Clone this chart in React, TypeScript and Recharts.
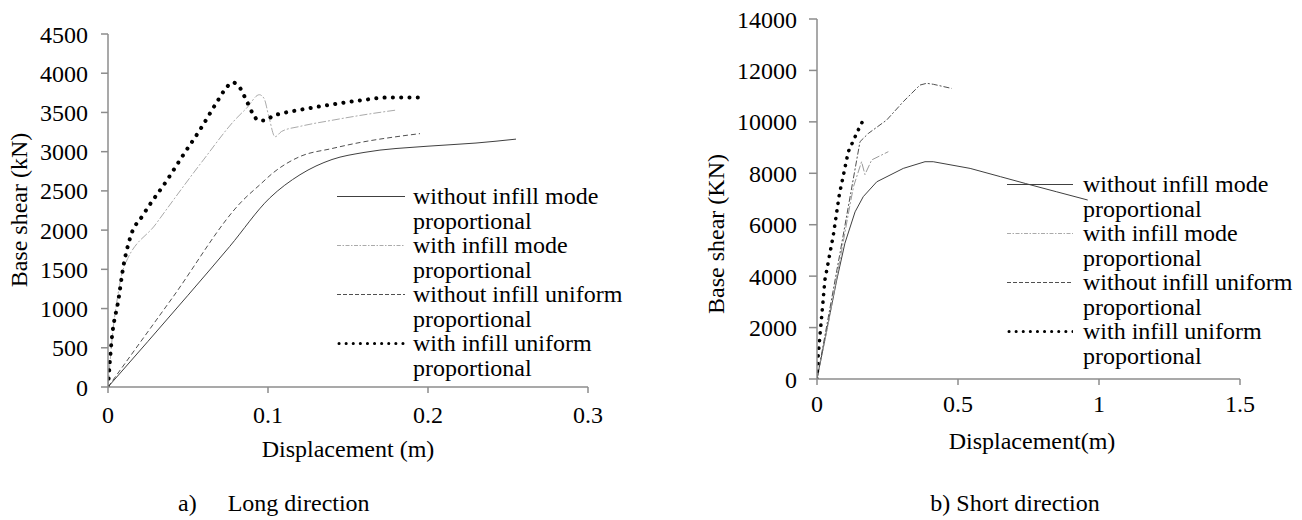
import React from 'react';
import { LineChart, Line, XAxis, YAxis, Legend } from 'recharts';

const FONT = '"Liberation Serif", Tinos, "Times New Roman", Times, "DejaVu Serif", serif';
const AXIS = '#8c8c8c';
const FS = 24;

// ---------- a) Long direction ----------
const longXTicks = [0, 0.1, 0.2, 0.3];
const longYTicks = [0, 500, 1000, 1500, 2000, 2500, 3000, 3500, 4000, 4500];

const longWithoutModeX = [0, 0.05, 0.076, 0.101, 0.12, 0.14, 0.16, 0.2, 0.23, 0.255];
const longWithoutModeY = [0, 1170, 1790, 2408, 2706, 2900, 2990, 3070, 3110, 3160];

const longWithModeX = [0, 0.003, 0.006, 0.0095, 0.03, 0.06, 0.08, 0.0867, 0.0946, 0.0975, 0.1005, 0.1044, 0.1085, 0.12, 0.14, 0.16, 0.18];
const longWithModeY = [0, 700, 1150, 1500, 2080, 2905, 3420, 3556, 3726, 3680, 3450, 3190, 3258, 3322, 3400, 3470, 3530];

const longWithoutUniformX = [0, 0.04, 0.0846, 0.095, 0.103, 0.12, 0.14, 0.1575, 0.18, 0.195];
const longWithoutUniformY = [0, 1130, 2386, 2580, 2727, 2938, 3040, 3117, 3190, 3230];

const longWithUniformX = [0, 0.0023, 0.0065, 0.0096, 0.0138, 0.022, 0.037, 0.0467, 0.0575, 0.0683, 0.0738, 0.0777, 0.0815, 0.0863, 0.0908, 0.094, 0.0986, 0.103, 0.1075, 0.118, 0.139, 0.16, 0.175, 0.195];
const longWithUniformY = [0, 600, 1110, 1535, 1900, 2195, 2640, 2948, 3279, 3640, 3811, 3883, 3841, 3662, 3475, 3398, 3398, 3458, 3483, 3526, 3598, 3660, 3690, 3690];

// ---------- b) Short direction ----------
const shortXTicks = [0, 0.5, 1, 1.5];
const shortYTicks = [0, 2000, 4000, 6000, 8000, 10000, 12000, 14000];

const shortWithoutModeX = [0, 0.07, 0.099, 0.135, 0.164, 0.212, 0.306, 0.383, 0.412, 0.543, 0.65, 0.74, 0.85, 0.96];
const shortWithoutModeY = [0, 3850, 5280, 6500, 7090, 7670, 8190, 8450, 8450, 8190, 7870, 7600, 7280, 6960];

const shortWithModeX = [0, 0.04, 0.08, 0.12, 0.13, 0.158, 0.17, 0.194, 0.253];
const shortWithModeY = [0, 2150, 4550, 6950, 7500, 8450, 7950, 8520, 8840];

const shortWithoutUniformX = [0, 0.04, 0.08, 0.12, 0.1525, 0.182, 0.247, 0.306, 0.365, 0.389, 0.413, 0.4775];
const shortWithoutUniformY = [0, 2400, 4800, 7250, 9230, 9550, 10070, 10785, 11430, 11500, 11460, 11300];

const shortWithUniformX = [0, 0.0047, 0.0165, 0.028, 0.058, 0.079, 0.111, 0.146, 0.17];
const shortWithUniformY = [0, 1000, 2420, 3850, 5600, 7160, 8840, 9680, 10200];

const seriesNames = [
  ['without infill mode', 'proportional'],
  ['with infill mode', 'proportional'],
  ['without infill uniform', 'proportional'],
  ['with infill uniform', 'proportional'],
];

const zip = (xs: number[], ys: number[]) => xs.map((x, i) => ({ x, y: ys[i] }));

type Style = { stroke: string; width: number; dash?: string; cap?: 'round' | 'butt' };

const longStyles: Style[] = [
  { stroke: '#404040', width: 1 },
  { stroke: '#aaaaaa', width: 1, dash: '8 2 2 2' },
  { stroke: '#505050', width: 1, dash: '5 3' },
  { stroke: '#000000', width: 4, dash: '0.1 8.2', cap: 'round' },
];
const shortStyles: Style[] = [
  { stroke: '#404040', width: 1 },
  { stroke: '#9a9a9a', width: 1, dash: '8 2 2 2' },
  { stroke: '#505050', width: 1, dash: '6 2 2 2' },
  { stroke: '#000000', width: 3.6, dash: '0.1 7.6', cap: 'round' },
];
const legendSampleStyles: Style[] = [
  { stroke: '#404040', width: 1 },
  { stroke: '#aaaaaa', width: 1, dash: '4 1.5 1.5 1.5' },
  { stroke: '#505050', width: 1, dash: '4 2' },
  { stroke: '#000000', width: 3, dash: '0.1 7', cap: 'round' },
];

const makeLegend = (sampleW: number, gap: number) => () => (
  <div style={{ fontFamily: FONT, fontSize: FS, lineHeight: '24.5px', color: '#000', whiteSpace: 'nowrap' }}>
    {seriesNames.map((n, i) => {
      const s = legendSampleStyles[i];
      return (
        <div key={i} style={{ display: 'flex', alignItems: 'flex-start' }}>
          <svg width={sampleW} height={24.5} style={{ flex: 'none', marginRight: gap, display: 'block' }}>
            <line x1={s.cap ? 2 : 0} x2={sampleW} y1={12.5} y2={12.5} stroke={s.stroke} strokeWidth={s.width}
              strokeDasharray={s.dash} strokeLinecap={s.cap || 'butt'} />
          </svg>
          <div>{n[0]}<br />{n[1]}</div>
        </div>
      );
    })}
  </div>
);

const tickStyle = { fill: '#000', fontSize: FS, fontFamily: FONT };

const renderLines = (data: { x: number; y: number }[][], styles: Style[], type: 'monotone' | 'linear') =>
  data.map((d, i) => (
    <Line key={i} data={d} dataKey="y" name={seriesNames[i].join(' ')} type={type}
      stroke={styles[i].stroke} strokeWidth={styles[i].width} strokeDasharray={styles[i].dash}
      strokeLinecap={styles[i].cap || 'butt'} dot={false} activeDot={false} isAnimationActive={false} />
  ));

const TextBox = ({ x, y, w, text, rotate }: { x: number; y: number; w: number; text: string; rotate?: boolean }) => (
  <div style={{
    position: 'absolute', left: x - w / 2, top: y - 13, width: w, height: 26, lineHeight: '26px',
    textAlign: 'center', fontFamily: FONT, fontSize: FS, color: '#000', whiteSpace: 'nowrap',
    transform: rotate ? 'rotate(-90deg)' : undefined,
  }}>{text}</div>
);

export default function App() {
  const longData = [
    zip(longWithoutModeX, longWithoutModeY),
    zip(longWithModeX, longWithModeY),
    zip(longWithoutUniformX, longWithoutUniformY),
    zip(longWithUniformX, longWithUniformY),
  ];
  const shortData = [
    zip(shortWithoutModeX, shortWithoutModeY),
    zip(shortWithModeX, shortWithModeY),
    zip(shortWithoutUniformX, shortWithoutUniformY),
    zip(shortWithUniformX, shortWithUniformY),
  ];
  return (
    <div style={{ position: 'absolute', left: 0, top: 0, width: 1302, height: 520, background: '#fff', overflow: 'hidden', fontFamily: FONT }}>
      <div style={{ position: 'absolute', left: 0, top: 0 }}>
        <LineChart width={640} height={430} margin={{ top: 34, right: 52, bottom: 13, left: 0 }} style={{ fontFamily: FONT }}>
          <XAxis type="number" dataKey="x" domain={[0, 0.3]} ticks={longXTicks} allowDataOverflow
            stroke={AXIS} strokeWidth={1.5} tickSize={6} tickMargin={13} tick={tickStyle} height={30} interval={0} />
          <YAxis type="number" domain={[0, 4500]} ticks={longYTicks} width={108} allowDataOverflow
            stroke={AXIS} strokeWidth={1.5} tickSize={7} tickMargin={13} tick={tickStyle} interval={0} />
          {renderLines(longData, longStyles, 'monotone')}
          <Legend layout="vertical" align="center" verticalAlign="middle" content={makeLegend(68, 8)}
            wrapperStyle={{ left: 337, top: 184, width: 300, height: 200 }} />
        </LineChart>
      </div>
      <div style={{ position: 'absolute', left: 700, top: 0 }}>
        <LineChart width={600} height={430} margin={{ top: 19, right: 60, bottom: 21, left: 0 }} style={{ fontFamily: FONT }}>
          <XAxis type="number" dataKey="x" domain={[0, 1.5]} ticks={shortXTicks} allowDataOverflow
            stroke={AXIS} strokeWidth={1.5} tickSize={6} tickMargin={10} tick={tickStyle} height={30} interval={0} />
          <YAxis type="number" domain={[0, 14000]} ticks={shortYTicks} width={117} allowDataOverflow
            stroke={AXIS} strokeWidth={1.5} tickSize={8} tickMargin={12} tick={tickStyle} interval={0} />
          {renderLines(shortData, shortStyles, 'linear')}
          <Legend layout="vertical" align="center" verticalAlign="middle" content={makeLegend(66, 10)}
            wrapperStyle={{ left: 307, top: 172, width: 295, height: 200 }} />
        </LineChart>
      </div>
      <TextBox x={19} y={210} w={220} text="Base shear (kN)" rotate />
      <TextBox x={716} y={234} w={220} text="Base shear (KN)" rotate />
      <TextBox x={348} y={449} w={240} text="Displacement (m)" />
      <TextBox x={1032} y={441} w={240} text="Displacement(m)" />
      <div style={{ position: 'absolute', left: 178, top: 490, fontFamily: FONT, fontSize: FS, lineHeight: '26px', whiteSpace: 'nowrap' }}>
        a)<span style={{ display: 'inline-block', width: 31 }} />Long direction
      </div>
      <TextBox x={1015} y={503} w={260} text="b) Short direction" />
    </div>
  );
}
